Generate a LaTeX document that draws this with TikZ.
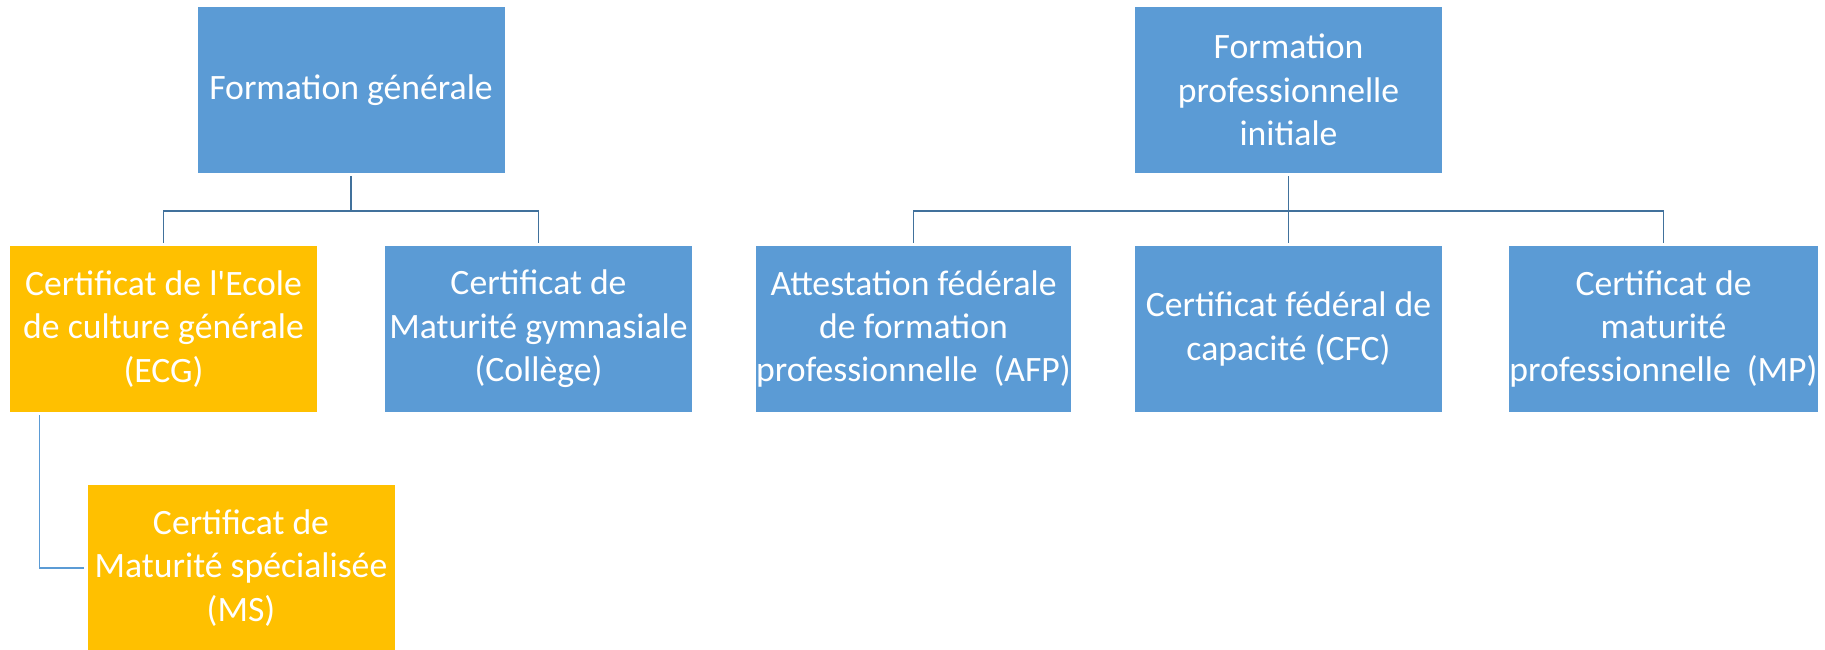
\documentclass[tikz,border=0pt]{standalone}
\usepackage{fontspec}
\setmainfont{Carlito}
\usetikzlibrary{positioning}
\definecolor{boxblue}{HTML}{5B9BD5}
\definecolor{boxorange}{HTML}{FFC000}
\definecolor{linkblue}{HTML}{41719C}

\begin{document}
\begin{tikzpicture}[-,shorten >=1.5pt,shorten <=1.5pt,node distance=7.5cm,
  thick,main node/.style={rectangle,fill=boxblue,text=white,minimum width=6.14cm,
    minimum height=3.32cm,inner sep=0pt,align=center,font=\fontsize{20.3}{24.7}\selectfont},
  ecg node/.style={main node,fill=boxorange},
  link/.style={draw=linkblue,line width=1.1pt}]

  \useasboundingbox (0,0) rectangle (36.5,-12.98);

  \node[ecg node] (1) at (3.27,-6.58) {Certificat de l\textquotesingle Ecole\\de culture générale\\(ECG)};
  \node[main node] (2) [right of=1] {Certificat de\\Maturité gymnasiale\\(Collège)};
  \node[main node] (3) [right of=2] {Attestation fédérale\\de formation\\professionnelle~ (AFP)};
  \node[main node] (4) [right of=3] {Certificat fédéral de\\capacité (CFC)};
  \node[main node] (5) [right of=4] {Certificat de\\maturité\\professionnelle~ (MP)};
  \node[ecg node] (6) at (4.82,-11.36) {Certificat de\\Maturité spécialisée\\(MS)};

  \node[main node] (7) at (7.02,-1.8) {Formation générale};
  \node[main node] (8) [above of=4, node distance=4.78cm] {Formation\\professionnelle\\initiale};

  \draw[link] (7.south) -- ++(0,-0.74) -| (1.north);
  \draw[link] (7.south) -- ++(0,-0.74) -| (2.north);
  \draw[link] (8.south) -- ++(0,-0.74) -| (3.north);
  \draw[link] (8) -- (4);
  \draw[link] (8.south) -- ++(0,-0.74) -| (5.north);

  \draw[link,draw=boxblue,line width=0.85pt] ([xshift=-2.48cm]1.south) |- (6.west);
\end{tikzpicture}
\end{document}
